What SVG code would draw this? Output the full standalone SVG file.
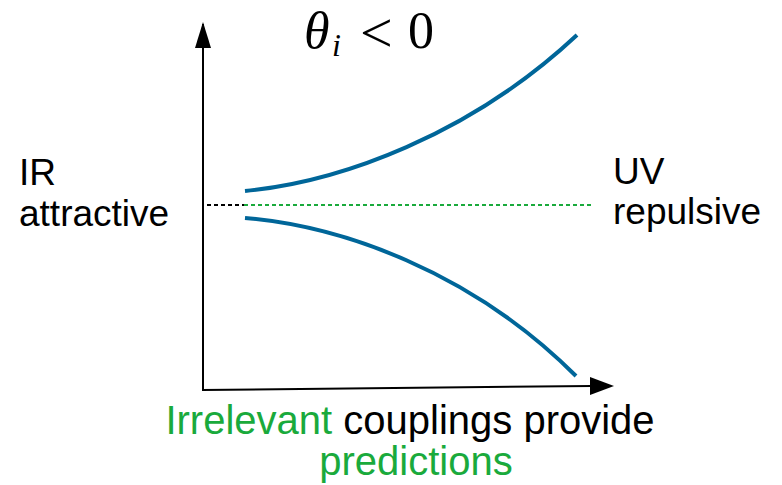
<svg xmlns="http://www.w3.org/2000/svg" width="782" height="485" viewBox="0 0 782 485">
<style>
.t{font-family:"Liberation Sans",Arial,sans-serif;font-size:37px;fill:#000}
.c{font-size:40px}
.g{fill:#1aaa3c}
.m{font-family:"Liberation Serif","DejaVu Serif",serif;fill:#000}
.curve{fill:none;stroke:#006699;stroke-width:4}
.axis{fill:none;stroke:#000;stroke-width:2}
</style>
<rect width="782" height="485" fill="#fff"/>
<g id="connectors">
<line class="axis" x1="203" y1="390" x2="203" y2="24"/>
<path d="M195,48 L203,22 L211,48 z" fill="#000"/>
<line class="axis" x1="202" y1="390" x2="592" y2="386"/>
<path d="M590,377 L614,386 L590,395 z" fill="#000"/>
<line x1="207" y1="205" x2="244" y2="205" stroke="#000" stroke-width="2" stroke-dasharray="4,3"/>
<line x1="244" y1="205" x2="593" y2="205" stroke="#1aaa3c" stroke-width="2" stroke-dasharray="4,3"/>
<path class="curve" d="M245,191 C340,182 470,135 577,35"/>
<path class="curve" d="M245,218 C340,226 470,270 576,376"/>
</g>
<g id="title">
<text class="m" x="304" y="48" font-size="52" font-style="italic">θ</text>
<text class="m" x="332" y="56" font-size="32" font-style="italic">i</text>
<text class="m" x="360" y="52" font-size="58">&lt;</text>
<text class="m" x="408" y="48" font-size="52">0</text>
</g>
<g id="ir">
<text class="t" x="19" y="185">IR</text>
<text class="t" x="19" y="226">attractive</text>
</g>
<g id="uv">
<text class="t" x="613" y="184">UV</text>
<text class="t" x="613" y="224">repulsive</text>
</g>
<g id="caption">
<text class="t c" x="410" y="434" text-anchor="middle"><tspan class="g">Irrelevant</tspan> couplings provide</text>
<text class="t c g" x="416" y="475" text-anchor="middle">predictions</text>
</g>
</svg>
